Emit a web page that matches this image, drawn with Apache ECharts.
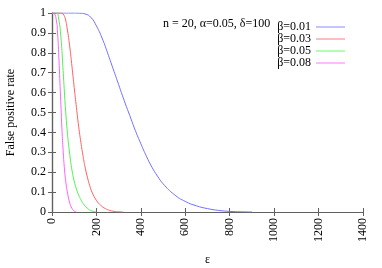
<!DOCTYPE html>
<html><head><meta charset="utf-8">
<script src="https://cdn.jsdelivr.net/npm/echarts@6/dist/echarts.min.js"></script>
<style>html,body{margin:0;padding:0;background:#fff}#c{width:382px;height:268px}</style>
</head><body><div id="c"></div>
<script>
const seriesNames = ['β=0.01', 'β=0.03', 'β=0.05', 'β=0.08'];
const epsB1 = [0, 50, 100, 125, 150, 175, 200, 225, 250, 275, 300, 325, 350, 375, 400, 425, 450, 475, 500, 550, 600, 650, 700, 750, 800, 850, 900];
const valB1 = [1, 1, 1, 0.999, 0.995, 0.978, 0.935, 0.875, 0.80, 0.72, 0.64, 0.56, 0.485, 0.41, 0.343, 0.28, 0.225, 0.18, 0.142, 0.088, 0.053, 0.031, 0.017, 0.008, 0.003, 0.001, 0];
const epsB3 = [0, 40, 50, 60, 70, 80, 90, 100, 110, 120, 130, 140, 150, 160, 170, 180, 200, 220, 240, 260, 280, 300, 320];
const valB3 = [1, 1, 0.995, 0.97, 0.91, 0.83, 0.73, 0.625, 0.525, 0.43, 0.35, 0.28, 0.22, 0.172, 0.132, 0.1, 0.058, 0.033, 0.017, 0.008, 0.003, 0.001, 0];
const epsB5 = [0, 20, 30, 40, 50, 60, 70, 80, 90, 100, 110, 120, 130, 140, 160, 180, 200];
const valB5 = [1, 1, 0.97, 0.88, 0.71, 0.53, 0.39, 0.29, 0.21, 0.155, 0.115, 0.085, 0.062, 0.043, 0.018, 0.005, 0];
const epsB8 = [0, 10, 20, 25, 30, 35, 40, 45, 50, 55, 60, 65, 70, 80, 90, 100, 110];
const valB8 = [1, 0.997, 0.96, 0.9, 0.8, 0.67, 0.54, 0.41, 0.31, 0.23, 0.17, 0.128, 0.095, 0.045, 0.018, 0.005, 0];
const xTicks = [0, 200, 400, 600, 800, 1000, 1200, 1400];
const yTicks = [0, 0.1, 0.2, 0.3, 0.4, 0.5, 0.6, 0.7, 0.8, 0.9, 1];
const colors = ['#7070ff', '#ff6060', '#50f050', '#ff60ff'];

const epsList = [epsB1, epsB3, epsB5, epsB8];
const valList = [valB1, valB3, valB5, valB8];
const font = 'Times New Roman, Liberation Serif, serif';
const axisColor = '#606060';

const chart = echarts.init(document.getElementById('c'), null, {renderer: 'canvas'});
const series = seriesNames.map((n, i) => ({
  name: n, type: 'line', symbol: 'none', smooth: 0.5,
  lineStyle: {width: 1, color: colors[i]}, itemStyle: {color: colors[i]},
  data: epsList[i].map((e, j) => [e, valList[i][j]])
}));
const common = {
  axisLine: {show: true, lineStyle: {color: axisColor, width: 1.2}},
  axisTick: {show: true, inside: true, length: 4, lineStyle: {color: axisColor}},
  splitLine: {show: false}
};
chart.setOption({
  animation: false,
  color: colors,
  grid: {left: 52, right: 19, top: 13, bottom: 56, containLabel: false, outerBoundsMode: 'none'},
  legend: {
    orient: 'vertical', right: 32, top: 16, align: 'right', itemGap: 0,
    itemWidth: 29, itemHeight: 10.3,
    textStyle: {fontFamily: font, fontSize: 12, color: '#000', padding: [0, 0, 0, 0]},
    data: seriesNames.map(n => ({name: n, icon: 'path://M0,5 L28,5 L28,5.8 L0,5.8 Z'}))
  },
  xAxis: [
    Object.assign({type: 'value', min: 0, max: 1400, interval: 200, position: 'bottom',
      name: 'ε', nameLocation: 'middle', nameGap: 42,
      nameTextStyle: {fontFamily: font, fontSize: 12, color: '#000'},
      axisLabel: {rotate: 90, fontFamily: font, fontSize: 12, color: '#000', margin: 6,
        formatter: v => xTicks.includes(v) ? String(v) : ''}}, common),
    Object.assign({type: 'value', min: 0, max: 1400, interval: 200, position: 'top',
      axisLabel: {show: false}}, common)
  ],
  yAxis: [
    Object.assign({type: 'value', min: 0, max: 1, interval: 0.1, position: 'left',
      name: 'False positive rate', nameLocation: 'middle', nameGap: 35, nameRotate: 90,
      nameTextStyle: {fontFamily: font, fontSize: 12, color: '#000'},
      axisLabel: {fontFamily: font, fontSize: 12, color: '#000', margin: 6,
        formatter: v => { const t = yTicks.find(k => Math.abs(k - v) < 1e-6); return t === undefined ? '' : String(t); }}}, common),
    Object.assign({type: 'value', min: 0, max: 1, interval: 0.1, position: 'right',
      axisLabel: {show: false}}, common)
  ],
  graphic: [{
    type: 'text', left: 163, top: 18,
    style: {text: 'n = 20, α=0.05, δ=100', font: '12px ' + font, fill: '#000'}
  }],
  series: series
});
</script></body></html>
